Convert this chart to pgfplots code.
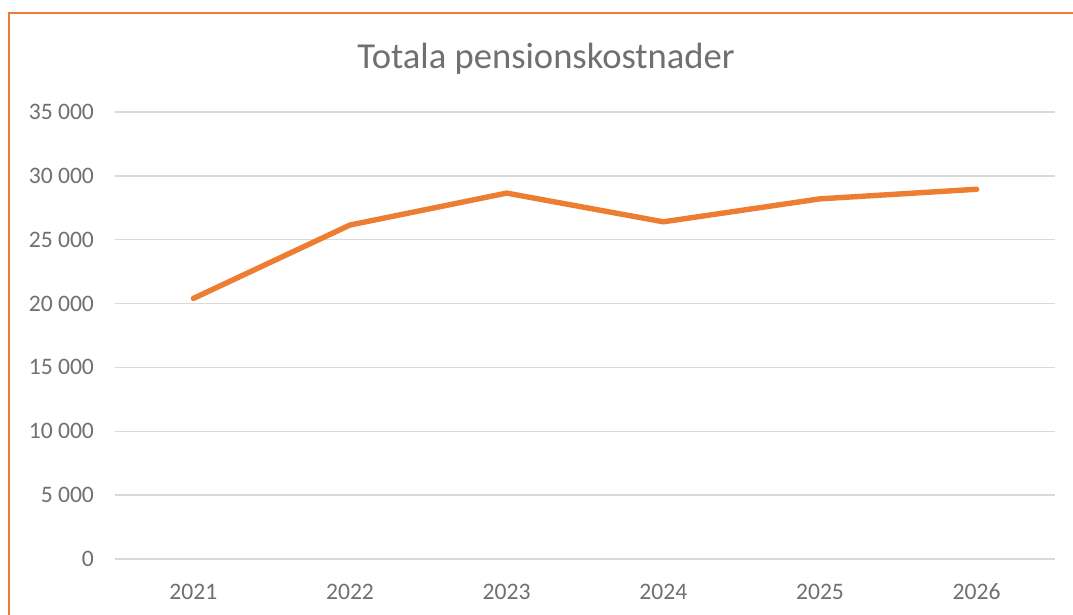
\documentclass[border=0pt]{standalone}
\usepackage{fontspec}
\setmainfont{Carlito}
\usepackage{pgfplots}
\pgfplotsset{compat=1.18}

\definecolor{xlorange}{HTML}{ED7D31}
\definecolor{xlgrid}{HTML}{D9D9D9}
\definecolor{xltext}{HTML}{707070}
\definecolor{xltitle}{HTML}{707070}

% 1 px of the reference = 0.5pt
\begin{document}
\begin{tikzpicture}[x=0.5pt,y=0.5pt]
\useasboundingbox (0,0) rectangle (1073,615);
\fill[white] (0,0) rectangle (1073,615);
% chart area frame (only left and top visible)
\draw[xlorange, line width=1pt] (8.5,-5) -- (8.5,601.5) -- (1080,601.5);

\node[text=xltitle, font=\fontsize{18.3}{22}\selectfont] at (546,556) {Totala pensionskostnader};

\begin{axis}[
    at={(57.5pt,28pt)}, anchor=south west,
    scale only axis,
    width=470pt, height=223.5pt,
    xmin=-0.5, xmax=5.5,
    ymin=0, ymax=35000,
    scaled y ticks=false,
    xtick={0,1,2,3,4,5},
    xticklabels={2021,2022,2023,2024,2025,2026},
    ytick={0,5000,10000,15000,20000,25000,30000,35000},
    yticklabels={0,5 000,10 000,15 000,20 000,25 000,30 000,35 000},
    major tick length=0pt,
    axis line style={draw=none},
    ymajorgrids,
    grid style={xlgrid, line width=0.75pt},
    ticklabel style={text=xltext, font=\fontsize{11.8}{14}\selectfont},
    yticklabel style={xshift=-7pt},
    xticklabel style={yshift=-9pt},
    clip=false,
]
\addplot[xlorange, line width=2.7pt, line join=round, line cap=round] coordinates {
    (0,20400) (1,26150) (2,28650) (3,26400) (4,28200) (5,28950)
};
\end{axis}
\end{tikzpicture}
\end{document}
